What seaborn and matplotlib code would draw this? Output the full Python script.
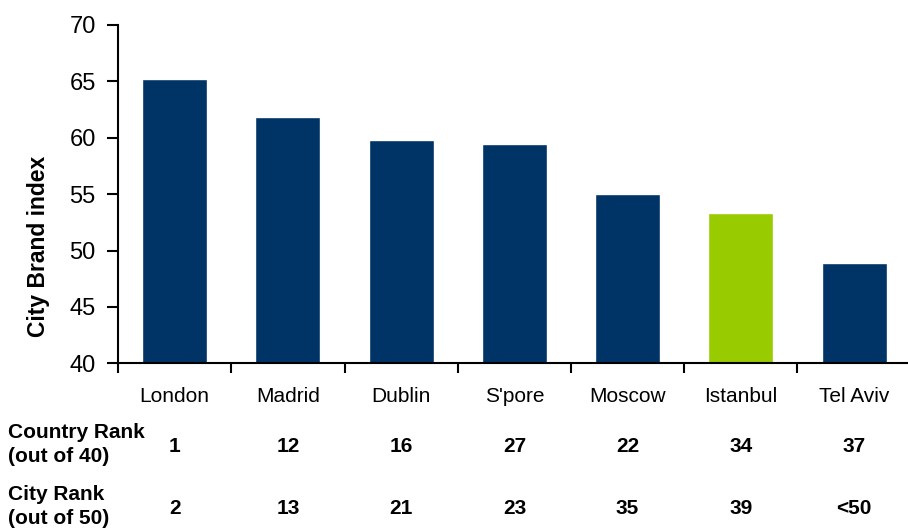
import pandas as pd
import seaborn as sns
import matplotlib.pyplot as plt
import matplotlib.transforms as mtransforms
import numpy as np

# data
cities = ["London", "Madrid", "Dublin", "S'pore", "Moscow", "Istanbul", "Tel Aviv"]
brand_index = [65.2, 61.85, 59.8, 59.4, 55.05, 53.3, 48.9]
country_rank = ["1", "12", "16", "27", "22", "34", "37"]
city_rank = ["2", "13", "21", "23", "35", "39", "<50"]
highlight = "Istanbul"

navy = "#003366"
green = "#99CC00"

sns.set_style("white")
plt.rcParams['font.family'] = ['Liberation Sans', 'DejaVu Sans']
for k in ['text.color', 'axes.labelcolor', 'xtick.color', 'ytick.color']:
    plt.rcParams[k] = 'black'

df = pd.DataFrame({"city": cities, "index": brand_index})
palette = {c: (green if c == highlight else navy) for c in cities}

fig = plt.figure(figsize=(9.08, 5.29), dpi=100)
ax = fig.add_axes([0.130, 0.313, 0.873, 0.640])

sns.barplot(data=df, x="city", y="index", hue="city", palette=palette,
            order=cities, hue_order=cities, legend=False, width=0.575,
            saturation=1, ax=ax)

ax.set_ylim(40, 70)
ax.set_xlim(-0.5, len(cities) - 0.5)
ax.set_yticks(np.arange(40, 71, 5))
ax.tick_params(axis='y', direction='out', length=8, width=1.5, labelsize=17,
               left=True, pad=8)
# category labels without tick marks, separator ticks at boundaries
ax.tick_params(axis='x', which='major', length=0, labelsize=15, pad=17)
ax.set_xticks(np.arange(-0.5, len(cities), 1), minor=True)
ax.tick_params(axis='x', which='minor', direction='out', length=7, width=1.5,
               bottom=True)

for s in ['top', 'right']:
    ax.spines[s].set_visible(False)
for s in ['left', 'bottom']:
    ax.spines[s].set_linewidth(1.5)
    ax.spines[s].set_color('black')

ax.set_xlabel("")
ax.set_ylabel("City Brand index", fontsize=16.5, fontweight='bold')
ax.yaxis.set_label_coords(50 / 908, 1 - 246 / 529, transform=fig.transFigure)

# rank rows under the chart
trans = mtransforms.blended_transform_factory(ax.transData, fig.transFigure)
for i, (cr, ci) in enumerate(zip(country_rank, city_rank)):
    ax.text(i, 1 - 446 / 529, cr, transform=trans, ha='center', va='center',
            fontsize=15, fontweight='bold')
    ax.text(i, 1 - 508 / 529, ci, transform=trans, ha='center', va='center',
            fontsize=15, fontweight='bold')

row_labels = [("Country Rank", 433), ("(out of 40)", 457),
              ("City Rank", 495), ("(out of 50)", 519)]
for txt, ypix in row_labels:
    fig.text(8 / 908, 1 - ypix / 529, txt, ha='left', va='center',
             fontsize=15, fontweight='bold')

fig.savefig('out.png', dpi=100)
